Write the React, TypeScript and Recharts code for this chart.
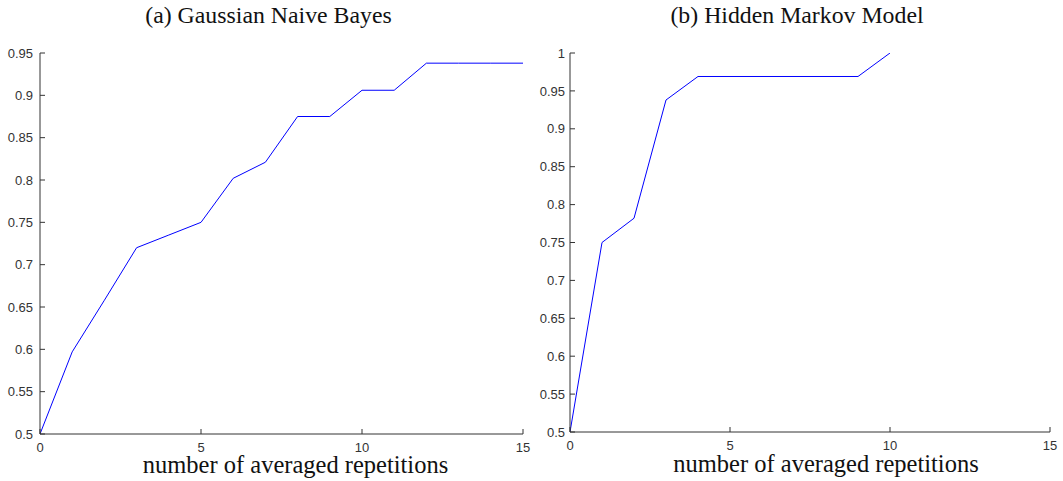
import React from 'react';
import { LineChart, Line, XAxis, YAxis } from 'recharts';

const repsA = [0, 1, 2, 3, 4, 5, 6, 7, 8, 9, 10, 11, 12, 13, 14, 15];
const accA = [0.5, 0.597, 0.658, 0.72, 0.735, 0.75, 0.802, 0.821, 0.875, 0.875, 0.906, 0.906, 0.938, 0.938, 0.938, 0.938];
const repsB = [0, 1, 2, 3, 4, 5, 6, 7, 8, 9, 10];
const accB = [0.5, 0.75, 0.782, 0.938, 0.969, 0.969, 0.969, 0.969, 0.969, 0.969, 1.0];
const xTicks = [0, 5, 10, 15];
const yTicksA = [0.5, 0.55, 0.6, 0.65, 0.7, 0.75, 0.8, 0.85, 0.9, 0.95];
const yTicksB = [0.5, 0.55, 0.6, 0.65, 0.7, 0.75, 0.8, 0.85, 0.9, 0.95, 1];
const titles = ['(a) Gaussian Naive Bayes', '(b) Hidden Markov Model'];
const xLabel = 'number of averaged repetitions';

const dataA = repsA.map((x, i) => ({ x, y: accA[i] }));
const dataB = repsB.map((x, i) => ({ x, y: accB[i] }));

const AX = '#333333';
const tickStyle = { fill: '#333333', fontSize: 13, fontFamily: '"Liberation Sans", Arial, sans-serif' };

type PanelProps = {
  data: { x: number; y: number }[];
  yTicks: number[];
  yDomain: [number, number];
  width: number;
  height: number;
  margin: { top: number; right: number; bottom: number; left: number };
  yAxisWidth: number;
  yTickMargin: number;
  xAxisHeight: number;
};

function Panel(p: PanelProps) {
  return (
    <LineChart width={p.width} height={p.height} data={p.data} margin={p.margin}>
      <XAxis
        dataKey="x"
        type="number"
        domain={[0, 15]}
        ticks={xTicks}
        allowDataOverflow
        stroke={AX}
        tickSize={-5}
        tickMargin={14}
        height={p.xAxisHeight}
        tick={tickStyle}
        interval={0}
      />
      <XAxis
        xAxisId="top"
        orientation="top"
        dataKey="x"
        type="number"
        domain={[0, 15]}
        ticks={xTicks}
        allowDataOverflow
        stroke={AX}
        tickSize={-5}
        height={0}
        tick={false}
        interval={0}
      />
      <YAxis
        type="number"
        domain={p.yDomain}
        ticks={p.yTicks}
        allowDataOverflow
        stroke={AX}
        tickSize={-5}
        tickMargin={p.yTickMargin}
        width={p.yAxisWidth}
        tick={tickStyle}
        interval={0}
        tickFormatter={(v: number) => String(v)}
      />
      <YAxis
        yAxisId="right"
        orientation="right"
        type="number"
        domain={p.yDomain}
        ticks={p.yTicks}
        allowDataOverflow
        stroke={AX}
        tickSize={-5}
        width={0}
        tick={false}
        interval={0}
      />
      <Line
        type="linear"
        dataKey="y"
        stroke="#0000ff"
        strokeWidth={1}
        dot={false}
        activeDot={false}
        isAnimationActive={false}
      />
    </LineChart>
  );
}

export default function App() {
  const serif = '"Liberation Serif", "Times New Roman", serif';
  return (
    <div style={{ position: 'absolute', left: 0, top: 0, width: 1063, height: 481, background: '#fff', overflow: 'hidden' }}>
      <div style={{ position: 'absolute', left: 0, top: 0 }}>
        <Panel
          data={dataA}
          yTicks={yTicksA}
          yDomain={[0.5, 0.95]}
          width={545}
          height={481}
          margin={{ top: 53, right: 22, bottom: 0, left: 0 }}
          yAxisWidth={40}
          yTickMargin={12}
          xAxisHeight={47}
        />
      </div>
      <div style={{ position: 'absolute', left: 525, top: 0 }}>
        <Panel
          data={dataB}
          yTicks={yTicksB}
          yDomain={[0.5, 1]}
          width={538}
          height={481}
          margin={{ top: 53, right: 13, bottom: 0, left: 0 }}
          yAxisWidth={45}
          yTickMargin={10}
          xAxisHeight={49}
        />
      </div>
      <svg width={1063} height={481} style={{ position: 'absolute', left: 0, top: 0, pointerEvents: 'none' }}>
        <text x={268.5} y={23} textAnchor="middle" fontFamily={serif} fontSize={23.8} fill="#111">{titles[0]}</text>
        <text x={797} y={23} textAnchor="middle" fontFamily={serif} fontSize={23.8} fill="#111">{titles[1]}</text>
        <text x={295.5} y={473} textAnchor="middle" fontFamily={serif} fontSize={24.5} fill="#111">{xLabel}</text>
        <text x={826} y={472} textAnchor="middle" fontFamily={serif} fontSize={24.5} fill="#111">{xLabel}</text>
      </svg>
    </div>
  );
}
